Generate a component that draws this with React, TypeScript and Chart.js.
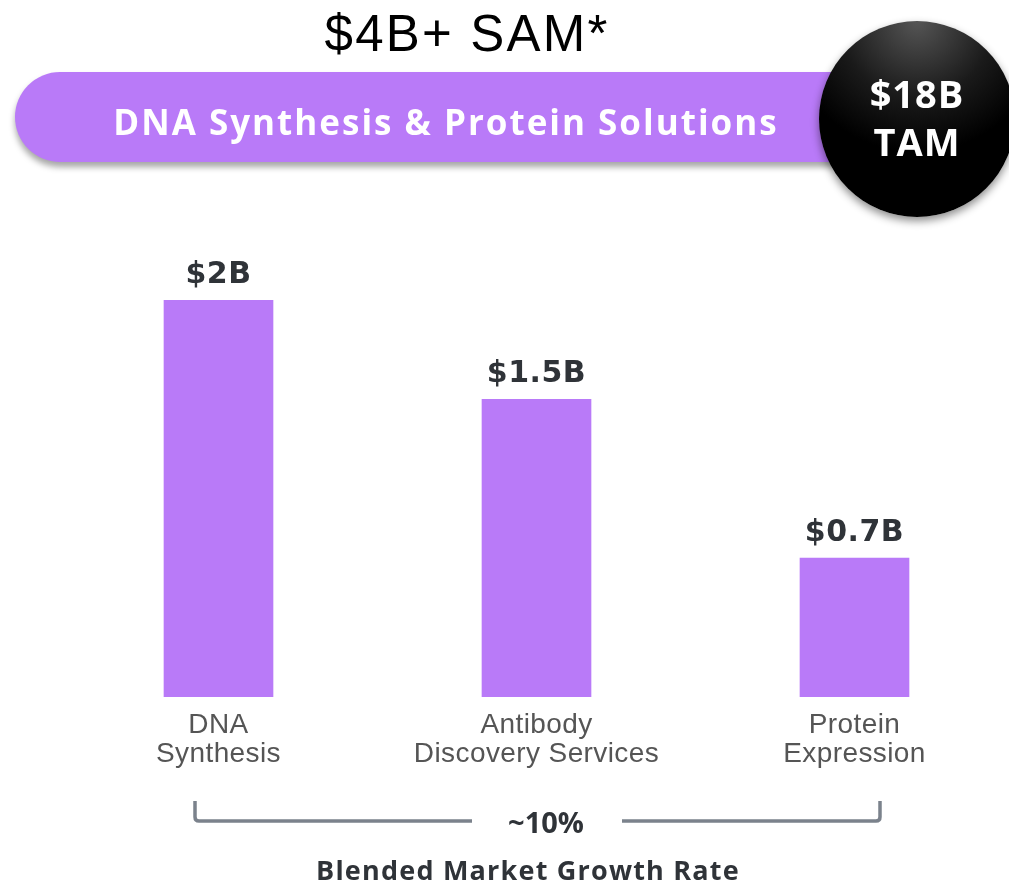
import React, { useEffect, useRef } from "react";
import { Chart, registerables } from "chart.js";

Chart.register(...registerables);

const categories: string[][] = [
  ["DNA", "Synthesis"],
  ["Antibody", "Discovery Services"],
  ["Protein", "Expression"],
];
const marketValues: number[] = [2, 1.5, 0.7];
const valueLabels: string[] = ["$2B", "$1.5B", "$0.7B"];

const titleText = "$4B+ SAM*";
const bannerText = "DNA Synthesis & Protein Solutions";
const tamLines = ["$18B", "TAM"];
const growthValue = "~10%";
const growthLabel = "Blended Market Growth Rate";

const PURPLE = "#B97AF8";
const DARK = "#2F3338";
const BOLD_FONT = "'Open Sans', 'DejaVu Sans', sans-serif";
const WIDE_BOLD = "'DejaVu Sans', 'Open Sans', sans-serif";

const valueLabelPlugin = {
  id: "valueLabels",
  beforeDraw(chart: any) {
    try {
      (chart.ctx as any).letterSpacing = "0.4px";
    } catch (e) {}
  },
  afterDatasetsDraw(chart: any) {
    const ctx = chart.ctx;
    const meta = chart.getDatasetMeta(0);
    ctx.save();
    ctx.font = `700 30px ${WIDE_BOLD}`;
    ctx.fillStyle = DARK;
    ctx.textAlign = "center";
    ctx.textBaseline = "alphabetic";
    try {
      (ctx as any).letterSpacing = "0.5px";
    } catch (e) {}
    meta.data.forEach((bar: any, i: number) => {
      ctx.fillText(valueLabels[i], bar.x, bar.y - 17);
    });
    ctx.restore();
  },
  afterDraw(chart: any) {
    try {
      (chart.ctx as any).letterSpacing = "0px";
    } catch (e) {}
  },
};

function BarChart() {
  const ref = useRef<HTMLCanvasElement | null>(null);
  useEffect(() => {
    if (!ref.current) return;
    const chart = new Chart(ref.current, {
      type: "bar",
      data: {
        labels: categories,
        datasets: [
          {
            data: marketValues,
            backgroundColor: PURPLE,
            borderWidth: 0,
            barThickness: 109,
          },
        ],
      },
      options: {
        responsive: false,
        animation: false,
        maintainAspectRatio: false,
        layout: { padding: { left: 59.5, right: 16.5, top: 70, bottom: 0 } },
        plugins: {
          legend: { display: false },
          tooltip: { enabled: false },
          title: { display: false },
        },
        scales: {
          x: {
            offset: true,
            grid: { display: false, drawTicks: false },
            border: { display: false },
            ticks: {
              color: "#555555",
              padding: 14,
              maxRotation: 0,
              autoSkip: false,
              font: { family: "'Liberation Sans', Arial, sans-serif", size: 28, lineHeight: 1.04 },
            },
            afterFit: (scale: any) => {
              scale.height = 93;
            },
          },
          y: {
            display: false,
            min: 0,
            max: 2,
            grid: { display: false },
          },
        },
      },
      plugins: [valueLabelPlugin],
    });
    return () => chart.destroy();
  }, []);
  return (
    <canvas
      ref={ref}
      width={1030}
      height={560}
      style={{ position: "absolute", left: 0, top: 230, width: 1030, height: 560 }}
    />
  );
}

export default function App() {
  return (
    <div
      style={{
        position: "fixed",
        left: 0,
        top: 0,
        width: 1009,
        height: 885,
        overflow: "hidden",
        background: "#ffffff",
      }}
    >
      <div
        style={{
          position: "absolute",
          left: 15,
          top: 72,
          width: 860,
          height: 90,
          borderRadius: 45,
          background: PURPLE,
          boxShadow: "0 5px 6px rgba(0,0,0,0.35)",
        }}
      />
      <div
        style={{
          position: "absolute",
          left: 819,
          top: 21,
          width: 196,
          height: 196,
          borderRadius: "50%",
          background: "radial-gradient(circle at 50% 0%, #555555 0%, #1a1a1a 35%, #000000 60%)",
          boxShadow: "0 4px 8px rgba(0,0,0,0.45)",
        }}
      />
      <BarChart />
      <svg
        width={1009}
        height={885}
        style={{ position: "absolute", left: 0, top: 0, pointerEvents: "none" }}
      >
        <text
          x={467}
          y={51}
          textAnchor="middle"
          fill="#000000"
          style={{ font: "400 51px 'Liberation Sans', Arial, sans-serif", letterSpacing: "2.2px" }}
        >
          {titleText}
        </text>
        <text
          x={446}
          y={135}
          textAnchor="middle"
          fill="#ffffff"
          style={{ font: `700 35px ${BOLD_FONT}`, letterSpacing: "2px" }}
        >
          {bannerText}
        </text>
        <text x={917} y={108} textAnchor="middle" fill="#ffffff" style={{ font: `700 38px ${BOLD_FONT}`, letterSpacing: "1px" }}>
          {tamLines[0]}
        </text>
        <text x={917} y={156} textAnchor="middle" fill="#ffffff" style={{ font: `700 38px ${BOLD_FONT}`, letterSpacing: "1px" }}>
          {tamLines[1]}
        </text>
        <path
          d="M195,801 L195,817 Q195,821 199,821 L472,821 M622,821 L876,821 Q880,821 880,817 L880,801"
          stroke="#7B828C"
          strokeWidth={3.5}
          fill="none"
        />
        <text x={546} y={833} textAnchor="middle" fill={DARK} style={{ font: `700 29px ${BOLD_FONT}` }}>
          {growthValue}
        </text>
        <text x={528} y={880} textAnchor="middle" fill={DARK} style={{ font: `700 27px ${BOLD_FONT}`, letterSpacing: "1.2px" }}>
          {growthLabel}
        </text>
      </svg>
    </div>
  );
}
